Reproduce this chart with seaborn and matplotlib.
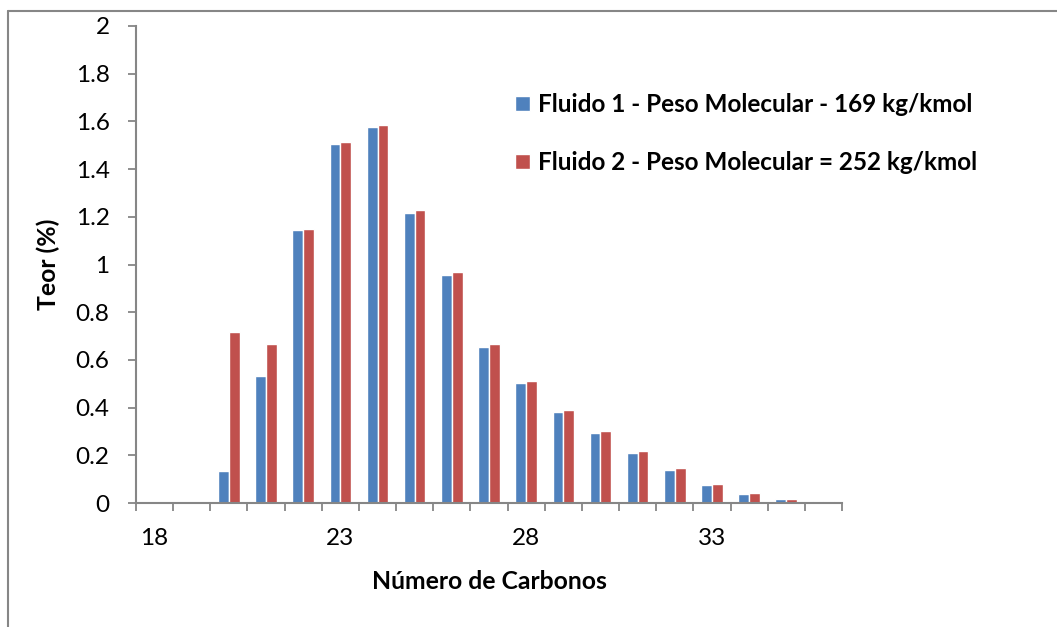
import numpy as np
import pandas as pd
import matplotlib
matplotlib.use("Agg")
import matplotlib.pyplot as plt
from matplotlib.lines import Line2D
import seaborn as sns

# Carbon number categories and composition (%) of each fluid
carbonos = [18, 19, 20, 21, 22, 23, 24, 25, 26, 27, 28, 29, 30, 31, 32, 33, 34, 35, 36]
fluido_1 = [None, None, 0.135, 0.532, 1.146, 1.505, 1.577, 1.216, 0.956, 0.655,
            0.502, 0.380, 0.295, 0.211, 0.138, 0.074, 0.039, 0.015, 0.007]
fluido_2 = [None, None, 0.715, 0.667, 1.150, 1.514, 1.587, 1.227, 0.970, 0.665,
            0.510, 0.391, 0.303, 0.219, 0.145, 0.081, 0.044, 0.018, 0.010]
series_names = ["Fluido 1 - Peso Molecular - 169 kg/kmol",
                "Fluido 2 - Peso Molecular = 252 kg/kmol"]
x_tick_labels = ["18", "23", "28", "33"]
y_ticks = [0, 0.2, 0.4, 0.6, 0.8, 1, 1.2, 1.4, 1.6, 1.8, 2]

sns.set_theme(style="white")
plt.rcParams["font.family"] = ["Lato", "DejaVu Sans"]
plt.rcParams["text.color"] = "black"
plt.rcParams["axes.labelcolor"] = "black"
plt.rcParams["xtick.color"] = "black"
plt.rcParams["ytick.color"] = "black"

rows = []
for c, v1, v2 in zip(carbonos, fluido_1, fluido_2):
    if v1 is not None:
        rows.append({"Carbonos": str(c), "Teor": v1, "Fluido": series_names[0]})
    if v2 is not None:
        rows.append({"Carbonos": str(c), "Teor": v2, "Fluido": series_names[1]})
df = pd.DataFrame(rows)
order = [str(c) for c in carbonos]

fig = plt.figure(figsize=(10.57, 6.27), dpi=100)
ax = fig.add_axes([136 / 1057, 1 - 503 / 627, 706 / 1057, 477 / 627])

sns.barplot(data=df, x="Carbonos", y="Teor", hue="Fluido", order=order,
            hue_order=series_names, palette=["#4F81BD", "#C0504D"],
            width=0.58, saturation=1, ax=ax, errorbar=None, legend=True)

axis_grey = "#868686"
ax.set_xlim(-0.5, len(carbonos) - 0.5)
ax.set_ylim(0, 2)

# y axis
ax.set_yticks(y_ticks)
ax.set_yticklabels([f"{t:g}" for t in y_ticks], fontsize=17.5)
# x axis: tick marks on category boundaries, labels every 5 carbons
ax.set_xticks(np.arange(-0.5, len(carbonos), 1.0))
ax.set_xticklabels([])
lab_pos = [order.index(l) for l in x_tick_labels]
ax.set_xticks(lab_pos, minor=True)
ax.set_xticklabels(x_tick_labels, minor=True, fontsize=17.5)
ax.tick_params(axis="x", which="minor", length=0, pad=18)
ax.tick_params(axis="both", which="major", direction="out", length=6,
               width=1.3, color=axis_grey, bottom=True, left=True)
ax.tick_params(axis="y", pad=13)

for side in ["top", "right"]:
    ax.spines[side].set_visible(False)
for side in ["left", "bottom"]:
    ax.spines[side].set_color(axis_grey)
    ax.spines[side].set_linewidth(1.5)

ax.set_xlabel("Número de Carbonos", fontsize=17.8, fontweight="bold", labelpad=15)
ax.set_ylabel("Teor (%)", fontsize=17.8, fontweight="bold", labelpad=11)

handles, labels = ax.get_legend_handles_labels()
leg = ax.legend(handles, labels, loc="upper left",
                bbox_to_anchor=(515 / 1057, 1 - 93 / 627),
                bbox_transform=fig.transFigure, frameon=False,
                prop={"size": 17.5, "weight": "bold"},
                handlelength=0.6, handleheight=0.6, handletextpad=0.35,
                labelspacing=1.45, borderaxespad=0, borderpad=0)

# chart area frame (top and left edges)
fig.add_artist(Line2D([7.5 / 1057, 1], [1 - 10.5 / 627] * 2, color=axis_grey, lw=1.5))
fig.add_artist(Line2D([7.5 / 1057] * 2, [0, 1 - 10.5 / 627], color=axis_grey, lw=1.5))

fig.savefig("out.png", dpi=100, facecolor="white")
